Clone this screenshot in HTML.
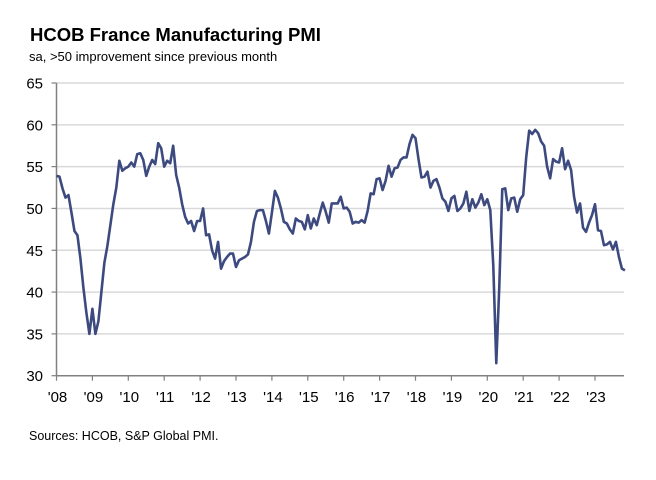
<!DOCTYPE html>
<html><head><meta charset="utf-8"><style>
body{margin:0;background:#fff;}
svg{display:block;font-family:"Liberation Sans",Arial,sans-serif;}
</style></head><body>
<svg id="chart" width="656" height="480">
<text x="30" y="41" font-size="18.5" font-weight="bold" fill="#000">HCOB France Manufacturing PMI</text>
<text x="29" y="61" font-size="13" fill="#000">sa, &gt;50 improvement since previous month</text>
<text x="29" y="440" font-size="12.5" fill="#000">Sources: HCOB, S&amp;P Global PMI.</text>
<g id="grid"></g><g id="axes"></g><g id="series"></g>
</svg>
<script>
const yTicks=[30,35,40,45,50,55,60,65];
const xYears=["'08","'09","'10","'11","'12","'13","'14","'15","'16","'17","'18","'19","'20","'21","'22","'23"];
const pmi2008=[53.9,53.8,52.4,51.3,51.6,49.5,47.3,46.8,44.0,40.5,37.5,35.0];
const pmi2009=[38.0,35.0,36.5,40.0,43.5,45.5,48.0,50.5,52.5,55.7,54.5,54.8];
const pmi2010=[55.0,55.5,55.0,56.5,56.6,55.8,53.9,55.0,55.8,55.3,57.8,57.2];
const pmi2011=[55.0,55.7,55.4,57.5,54.0,52.5,50.5,49.0,48.2,48.5,47.3,48.5];
const pmi2012=[48.5,50.0,46.8,46.9,45.0,44.0,46.0,42.8,43.7,44.2,44.6,44.6];
const pmi2013=[43.0,43.8,44.0,44.2,44.5,46.0,48.4,49.7,49.8,49.8,48.5,47.0];
const pmi2014=[49.5,52.1,51.3,50.0,48.4,48.2,47.5,47.0,48.8,48.5,48.4,47.5];
const pmi2015=[49.2,47.6,48.8,48.0,49.4,50.7,49.6,48.3,50.6,50.6,50.6,51.4];
const pmi2016=[50.0,50.1,49.6,48.2,48.4,48.3,48.6,48.3,49.7,51.8,51.7,53.5];
const pmi2017=[53.6,52.2,53.3,55.1,53.8,54.8,54.9,55.8,56.1,56.1,57.7,58.8];
const pmi2018=[58.4,55.9,53.7,53.8,54.4,52.5,53.3,53.5,52.5,51.2,50.8,49.7];
const pmi2019=[51.2,51.5,49.7,50.0,50.6,52.0,49.7,51.1,50.1,50.7,51.7,50.4];
const pmi2020=[51.1,49.8,43.2,31.5,40.6,52.3,52.4,49.8,51.2,51.3,49.6,51.1];
const pmi2021=[51.6,56.1,59.3,58.9,59.4,59.0,58.0,57.5,55.0,53.6,55.9,55.6];
const pmi2022=[55.5,57.2,54.7,55.7,54.6,51.4,49.5,50.6,47.7,47.2,48.3,49.2];
const pmi2023=[50.5,47.4,47.3,45.6,45.7,46.0,45.1,46.0,44.2,42.8,42.6];
const series=[].concat(pmi2008,pmi2009,pmi2010,pmi2011,pmi2012,pmi2013,pmi2014,pmi2015,pmi2016,pmi2017,pmi2018,pmi2019,pmi2020,pmi2021,pmi2022,pmi2023);
const NS='http://www.w3.org/2000/svg';
const x0=56.5,yearW=35.9,xR=624,yTop=83,yBot=375.7;
const xScale=i=>x0+i*yearW/12;
const yScale=v=>yBot-(v-30)/35*(yBot-yTop);
function mk(tag,attrs,parent){const e=document.createElementNS(NS,tag);for(const k in attrs)e.setAttribute(k,attrs[k]);parent.appendChild(e);return e;}
const grid=document.getElementById('grid'),axes=document.getElementById('axes'),ser=document.getElementById('series');
yTicks.forEach(v=>{
  const y=yScale(v);
  if(v>30){const g=mk('line',{x1:x0,x2:xR,y1:y,y2:y,stroke:'#d9d9d9','stroke-width':1.5},grid);
  
  }
  const t=mk('line',{x1:x0-5,x2:x0,y1:y,y2:y,stroke:'#808080','stroke-width':1.2},axes);
  
  
  const l=mk('text',{x:43,y:y+5.5,'font-size':15,'text-anchor':'end',fill:'#000'},axes);
  l.textContent=v;
  
  
});
const ya=mk('line',{x1:x0,x2:x0,y1:yTop,y2:yBot,stroke:'#808080','stroke-width':1.5},axes);


const xa=mk('line',{x1:x0,x2:xR,y1:yBot,y2:yBot,stroke:'#808080','stroke-width':1.5},axes);


xYears.forEach((lab,i)=>{
  const x=xScale(i*12);
  const t=mk('line',{x1:x,x2:x,y1:yBot,y2:yBot+5,stroke:'#808080','stroke-width':1.2},axes);
  
  
  const l=mk('text',{x:x+1,y:402,'font-size':15,'text-anchor':'middle',fill:'#000'},axes);
  l.textContent=lab;
  
  
});
const d=series.map((v,i)=>(i?'L':'M')+xScale(i).toFixed(2)+','+yScale(v).toFixed(2)).join('');
const p=mk('path',{d:d,fill:'none',stroke:'#3d4a80','stroke-width':2.6,'stroke-linejoin':'round'},ser);


</script>
</body></html>
